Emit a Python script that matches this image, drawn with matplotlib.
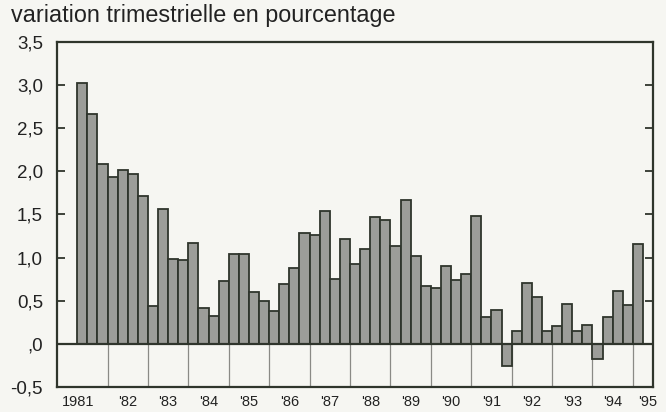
import matplotlib.pyplot as plt
import numpy as np

# quarterly growth, 1981 Q2 .. 1995 Q1
quarters = [
    '1981Q2', '1981Q3', '1981Q4',
    '1982Q1', '1982Q2', '1982Q3', '1982Q4',
    '1983Q1', '1983Q2', '1983Q3', '1983Q4',
    '1984Q1', '1984Q2', '1984Q3', '1984Q4',
    '1985Q1', '1985Q2', '1985Q3', '1985Q4',
    '1986Q1', '1986Q2', '1986Q3', '1986Q4',
    '1987Q1', '1987Q2', '1987Q3', '1987Q4',
    '1988Q1', '1988Q2', '1988Q3', '1988Q4',
    '1989Q1', '1989Q2', '1989Q3', '1989Q4',
    '1990Q1', '1990Q2', '1990Q3', '1990Q4',
    '1991Q1', '1991Q2', '1991Q3', '1991Q4',
    '1992Q1', '1992Q2', '1992Q3', '1992Q4',
    '1993Q1', '1993Q2', '1993Q3', '1993Q4',
    '1994Q1', '1994Q2', '1994Q3', '1994Q4',
    '1995Q1',
]
growth = [
    3.02, 2.66, 2.09,
    1.94, 2.01, 1.97, 1.71,
    0.44, 1.56, 0.98, 0.97,
    1.17, 0.42, 0.32, 0.73,
    1.04, 1.04, 0.60, 0.50,
    0.38, 0.69, 0.88, 1.29,
    1.26, 1.54, 0.75, 1.21,
    0.92, 1.10, 1.47, 1.44,
    1.14, 1.67, 1.02, 0.67,
    0.65, 0.90, 0.74, 0.81,
    1.48, 0.31, 0.39, -0.26,
    0.15, 0.71, 0.54, 0.15,
    0.21, 0.46, 0.15, 0.22,
    -0.18, 0.31, 0.61, 0.45,
    1.16,
]
year_labels = ['1981', "'82", "'83", "'84", "'85", "'86", "'87", "'88",
               "'89", "'90", "'91", "'92", "'93", "'94", "'95"]
y_ticks = [-0.5, 0.0, 0.5, 1.0, 1.5, 2.0, 2.5, 3.0, 3.5]
y_tick_labels = ['-0,5', ',0', '0,5', '1,0', '1,5', '2,0', '2,5', '3,0', '3,5']

plt.rcParams['font.family'] = ['Liberation Sans', 'DejaVu Sans']
ink = '#2f352c'
bg = '#f6f6f2'

fig = plt.figure(figsize=(6.66, 4.12), dpi=100, facecolor=bg)
ax = fig.add_axes([0.0856, 0.0607, 0.895, 0.8375], facecolor=bg)

# index 0 = 1981 Q1
x = np.array([int(q[:4]) * 4 + int(q[-1]) - 1 for q in quarters]) - 1981 * 4
ax.bar(x, growth, width=1.0, color='#9c9d99', edgecolor=ink, linewidth=1.3, zorder=2)

ax.axhline(0, color=ink, linewidth=1.6, zorder=3)
for k in range(1, len(year_labels)):
    ax.plot([4 * k - 0.5, 4 * k - 0.5], [-0.5, 0], color='#8a8a86', linewidth=0.9, zorder=1)

ax.set_xlim(-1.5, 57.5)
ax.set_ylim(-0.5, 3.5)

ax.set_yticks(y_ticks)
ax.set_yticklabels(y_tick_labels, fontsize=13.5, color='#222222')
ax.tick_params(axis='y', direction='in', length=6, width=1.3, color=ink,
               right=True, pad=10)

label_pos = [0.6] + [4 * k + 1.5 for k in range(1, 14)] + [57.0]
ax.set_xticks(label_pos)
ax.set_xticklabels(year_labels, fontsize=10.5, color='#222222')
ax.tick_params(axis='x', length=0, pad=6)

for s in ax.spines.values():
    s.set_color(ink)
    s.set_linewidth(1.6)

fig.text(0.016, 0.963, 'variation trimestrielle en pourcentage', fontsize=16.8,
         color='#222222', ha='left', va='center')

fig.savefig('out.png', dpi=100, facecolor=bg)
